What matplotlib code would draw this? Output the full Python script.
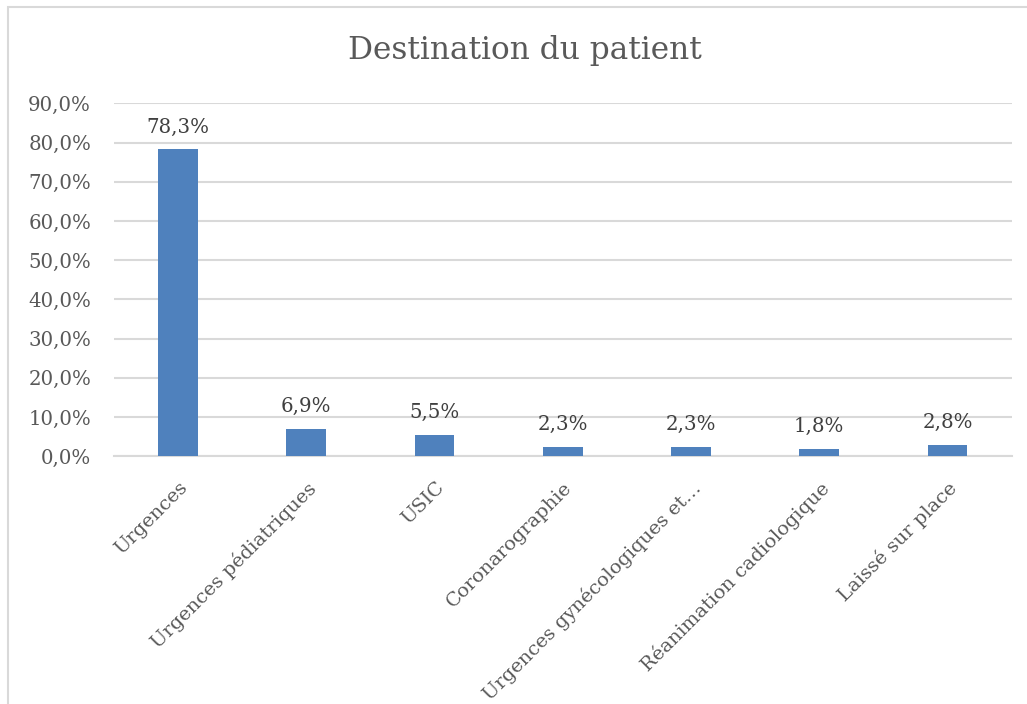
import matplotlib.pyplot as plt
from matplotlib.patches import Rectangle

# Données
categories = [
    "Urgences",
    "Urgences pédiatriques",
    "USIC",
    "Coronarographie",
    "Urgences gynécologiques et…",
    "Réanimation cadiologique",
    "Laissé sur place",
]
pourcentages = [78.3, 6.9, 5.5, 2.3, 2.3, 1.8, 2.8]
yticks = [0, 10, 20, 30, 40, 50, 60, 70, 80, 90]

plt.rcParams["font.family"] = ["DejaVu Serif"]

fig = plt.figure(figsize=(10.27, 7.04), dpi=100)
ax = fig.add_axes([0.111, 0.352, 0.874, 0.501])

# cadre du graphique
fig.patches.append(Rectangle((8 / 1027, -0.1), 1.2, 1.1 - 7 / 704,
                             transform=fig.transFigure, fill=False,
                             edgecolor="#d9d9d9", linewidth=1.5))

x = range(len(categories))
bars = ax.bar(x, pourcentages, width=0.31, color="#4f81bd", zorder=3)

for b, v in zip(bars, pourcentages):
    ax.text(b.get_x() + b.get_width() / 2, v + 3.3, f"{v:.1f}%".replace(".", ","),
            ha="center", va="bottom", fontsize=14.2, color="#404040")

ax.set_xlim(-0.5, len(categories) - 0.5)
ax.set_ylim(0, 90)
ax.set_yticks(yticks)
ax.set_yticklabels([f"{t:.1f}%".replace(".", ",") for t in yticks],
                   fontsize=14.2, color="#595959")
ax.set_xticks(list(x))
ax.set_xticklabels(categories, rotation=45, ha="right", rotation_mode="anchor",
                   fontsize=14, color="#595959")
ax.tick_params(axis="y", length=0, pad=16.5)
ax.tick_params(axis="x", length=0, pad=16)

ax.yaxis.grid(True, color="#d9d9d9", linewidth=1.5, zorder=0)
for s in ["top", "right", "left"]:
    ax.spines[s].set_visible(False)
ax.spines["bottom"].set_color("#d9d9d9")
ax.spines["bottom"].set_linewidth(1.5)

fig.text(0.511, 0.928, "Destination du patient", ha="center", va="center",
         fontsize=22.5, color="#595959")

fig.savefig("out.png", dpi=100)
